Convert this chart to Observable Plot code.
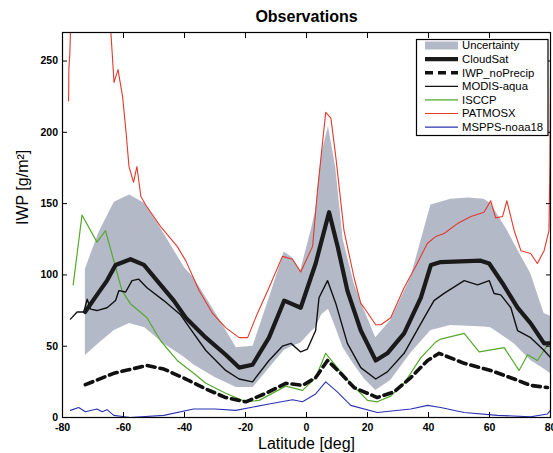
<!DOCTYPE html>
<html><head><meta charset="utf-8">
<script src="https://cdn.jsdelivr.net/npm/d3@7"></script>
<script src="https://cdn.jsdelivr.net/npm/@observablehq/plot@0.6"></script>
<style>
body{margin:0;background:#fff;}
#chart{position:relative;width:553px;height:453px;overflow:hidden}
</style>
</head><body><div id="chart"></div>
<script>
const titleText = "Observations";
const xLabel = "Latitude [deg]";
const yLabel = "IWP [g/m²]";
const xTicks = [-80, -60, -40, -20, 0, 20, 40, 60, 80];
const yTicks = [0, 50, 100, 150, 200, 250];
const legendNames = ["Uncertainty", "CloudSat", "IWP_noPrecip", "MODIS-aqua", "ISCCP", "PATMOSX", "MSPPS-noaa18"];

// Uncertainty band
const bandLat   = [-72.5,-68,-63,-58,-53,-47,-40,-37,-30,-23,-17.5,-12,-7.3,-4.6,-1.9,1.5,3,5,7.2,9.6,12,15.6,19,22.7,27.6,34.2,40.8,47.3,53,58.2,60.4,65.9,68.1,73.5,77.9,80];
const bandUpper = [104,130,151,156,150,130,105,98,74,49,50,85,116,112,103,131,145,185,204,175,125,94,75,56,68,98,149,153,154,153,150,131,122,101,73,71];
const bandLower = [43.5,52,61,66,63,52,42,37,28,21,21,35,47,50,52,60,63,72,76,63,49,37,27,19,26,45,61,64.6,64,63.5,63,55,51.7,40,34,30.7];

// CloudSat
const cloudsatLat = [-72.6,-68.7,-65.4,-62.6,-57.7,-53.3,-49,-43.5,-39.6,-33,-26.5,-22.1,-17.7,-12.3,-7.3,-1.9,3,7.4,10.2,13.4,17.8,22.7,26.5,32,37.5,40.8,44,57.1,59.9,64.3,69.2,73.5,77.9,79.5];
const cloudsatVal = [74,86,96,107,111,107,96,82,70,56,44,35,37,56,82,77,108,144,120,89,61,40,45,59,84,107,109,110,108,94,77,66,52,52];

// IWP_noPrecip
const noPrecipLat = [-72.5,-63.2,-52.3,-46.8,-39.6,-33,-26.5,-19.9,-13.3,-6.8,-1.3,3,6.9,11.2,15.6,23.2,28.7,34.2,39.7,43.5,51.7,60.4,68.1,73.5,79];
const noPrecipVal = [23,31,36.5,34,27,20,14,11,17,24,22.5,28,40,31,21,14,18,28,40,45,38,33,27,22.5,21];

// MODIS-aqua
const modisLat = [-77.4,-75.2,-73,-71.9,-70.8,-68.7,-65.4,-62.6,-61.5,-59.3,-57.2,-55,-52.3,-46.8,-41.3,-38,-33,-26.5,-22.1,-17.7,-12.3,-7.9,-5.1,-1.9,0.3,3,4.1,6.9,9.6,13.4,17.8,22.7,26.5,32,38.6,41.8,45.1,51.7,56.1,59.9,61.5,63.7,67,69.2,73.5,77.9,80];
const modisVal = [69,74,74,83,76,75,77,82,89,88,96,97,91,82,72,62,47,33,27,25,40,50,52,46,48,61,84,96,80,52,35,27,32,45,70,82,87,96,93,96,87,86,77,61,56,47,42];

// ISCCP
const isccpLat = [-76.5,-73.6,-68.7,-65.9,-63.2,-60.5,-57.8,-52.3,-47.9,-42.4,-37,-33,-26.5,-19.9,-15.5,-6.8,-1.3,3,6.3,10.1,14.5,20,23.2,27.6,32,37.5,42.4,44,51.7,56.6,64.8,69.7,72.5,75.7,80];
const isccpVal = [93,142,123,131,110,89,80,70,54,40,31,24,17,11,12,22,19,28,45,35,24,12,11,15,24,42,53,55,59,46,49,33,44,40,54];

// PATMOSX
const patmosLat = [-78,-77.9,-77.6,-77,-70,-65,-64.2,-63.1,-61.8,-60.3,-59.2,-58.2,-56.7,-55.6,-54.3,-52.7,-47.9,-42.4,-39.6,-35.2,-30.8,-26.5,-22.1,-19.3,-16.1,-12.3,-7.9,-4.6,-1.9,2,3.6,6.3,8,9.6,12.3,15.6,17.8,18.9,22.7,24.4,27.6,32,36.3,39.6,42.4,45.1,49.5,53.9,58.2,60.4,62,64.3,65.7,68.1,70.3,73.5,75.7,77.9,79.5,79.8,80];
const patmosVal = [222,245,255,300,330,300,272,235,244,225,201,176,165,176,155,149,134,120,110,89,73,63,56,56,73,91,113,111,102,120,159,214,210,183,131,98,80,77,65,65,70,91,108,122,127,129,136,141,144,152,140,141,152,131,117,115,108,117,131,178,240];

// MSPPS-noaa18
const msppsLat = [-77.4,-74.7,-72.5,-68.7,-67,-65.4,-63.2,-57.8,-46.8,-37,-30,-23.2,-12.3,-4.6,-1.3,3,6.3,10.1,14.5,23.2,34.2,39.7,44,51.7,62.6,73.5,79,80];
const msppsVal = [5,7,4,6,4,5.5,1.5,0,1.5,6,6,5,9.5,12.5,11,16.5,25,18,8.5,3.5,6,8.5,7,3.5,1.5,0.5,2.5,5];

const rows = (lat, val) => lat.map((x, i) => ({lat: x, v: val[i]}));
const band = bandLat.map((x, i) => ({lat: x, lo: bandLower[i], hi: bandUpper[i]}));

const colors = {band: "#b4b9c7", cloudsat: "#1a1a1a", noprecip: "#111111", modis: "#111111", isccp: "#55a82c", patmos: "#e23a2c", mspps: "#2a34b2"};
const font = "'Liberation Sans', Arial, Helvetica, sans-serif";

const plot = Plot.plot({
  width: 553, height: 453,
  marginLeft: 62, marginRight: 3, marginTop: 32, marginBottom: 36,
  x: {domain: [-80, 80]},
  y: {domain: [0, 270]},
  style: {fontFamily: font, background: "#fff", color: "#000", overflow: "hidden"},
  marks: [
    Plot.areaY(band, {x: "lat", y1: "lo", y2: "hi", fill: colors.band, clip: true}),
    Plot.line(rows(patmosLat, patmosVal), {x: "lat", y: "v", stroke: colors.patmos, strokeWidth: 1.1, clip: true}),
    Plot.line(rows(msppsLat, msppsVal), {x: "lat", y: "v", stroke: colors.mspps, strokeWidth: 1.1, clip: true}),
    Plot.line(rows(isccpLat, isccpVal), {x: "lat", y: "v", stroke: colors.isccp, strokeWidth: 1.2, clip: true}),
    Plot.line(rows(noPrecipLat, noPrecipVal), {x: "lat", y: "v", stroke: colors.noprecip, strokeWidth: 3.6, strokeDasharray: "8,5", clip: true}),
    Plot.line(rows(modisLat, modisVal), {x: "lat", y: "v", stroke: colors.modis, strokeWidth: 1.4, clip: true}),
    Plot.line(rows(cloudsatLat, cloudsatVal), {x: "lat", y: "v", stroke: colors.cloudsat, strokeWidth: 4.2, clip: true}),
    Plot.frame({stroke: "#000", strokeWidth: 1.2}),
    Plot.axisX({ticks: xTicks, tickSize: -5, tickPadding: 11, tickFormat: d => String(d), fontSize: 10.5, fontWeight: "bold", label: null}),
    Plot.axisX({anchor: "top", ticks: xTicks, tickSize: -5, tickFormat: () => "", label: null}),
    Plot.axisY({ticks: yTicks, tickSize: -5, tickPadding: 9.5, tickFormat: d => String(d), fontSize: 10.5, fontWeight: "bold", label: null}),
    Plot.axisY({anchor: "right", ticks: yTicks, tickSize: -5, tickFormat: () => "", label: null}),
    Plot.text([titleText], {frameAnchor: "top", dy: -16, fontSize: 16, fontWeight: "bold", lineAnchor: "middle"}),
    Plot.text([xLabel], {frameAnchor: "bottom", dy: 26, fontSize: 16, lineAnchor: "middle"}),
    Plot.text([yLabel], {frameAnchor: "left", dx: -40, rotate: -90, fontSize: 16, lineAnchor: "middle"})
  ]
});

// Legend drawn into the same SVG
const svg = d3.select(plot);
const lg = svg.append("g").attr("font-family", font).attr("font-size", 11.3).attr("text-anchor", "start");
lg.append("rect").attr("x", 416.5).attr("y", 39.5).attr("width", 131.5).attr("height", 96)
  .attr("fill", "#fff").attr("stroke", "#000").attr("stroke-width", 1.2);
const legendStyles = [
  {type: "rect", color: colors.band},
  {type: "line", color: colors.cloudsat, w: 4.2},
  {type: "line", color: colors.noprecip, w: 3.6, dash: "8,5"},
  {type: "line", color: colors.modis, w: 1.3},
  {type: "line", color: colors.isccp, w: 1.2},
  {type: "line", color: colors.patmos, w: 1.1},
  {type: "line", color: colors.mspps, w: 1.1}
];
legendNames.forEach((name, i) => {
  const y = 45.5 + i * 13.6;
  const s = legendStyles[i];
  if (s.type === "rect") {
    lg.append("rect").attr("x", 425).attr("y", y - 4).attr("width", 33).attr("height", 8).attr("fill", s.color);
  } else {
    const l = lg.append("line").attr("x1", 425).attr("x2", 458).attr("y1", y).attr("y2", y)
      .attr("stroke", s.color).attr("stroke-width", s.w);
    if (s.dash) l.attr("stroke-dasharray", s.dash);
  }
  lg.append("text").attr("x", 462).attr("y", y).attr("dy", "0.35em").attr("text-anchor", "start").text(name);
});

document.getElementById("chart").appendChild(plot);
</script>
</body></html>
